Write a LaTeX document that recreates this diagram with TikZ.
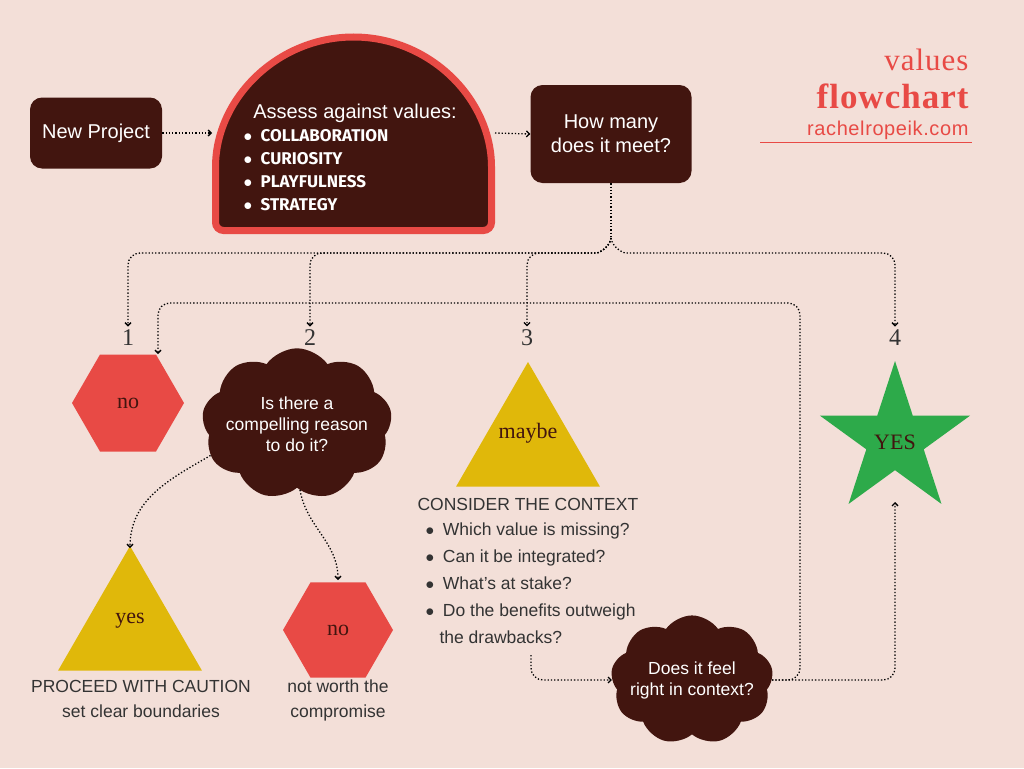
\documentclass[tikz,border=0pt]{standalone}
\usepackage{fontspec}
\setmainfont{Liberation Sans}
\newfontfamily\serf{Liberation Serif}
\newfontfamily\cond{Fira Sans}
\usetikzlibrary{shapes.geometric,shapes.symbols,arrows.meta}
\definecolor{bg}{HTML}{F3DFD8}
\definecolor{dk}{HTML}{42150F}
\definecolor{rd}{HTML}{E84A45}
\definecolor{yl}{HTML}{E0B80A}
\definecolor{gr}{HTML}{2DAA4A}
\definecolor{tx}{HTML}{333333}
\begin{document}
\begin{tikzpicture}[x=1pt,y=-1pt,
  box/.style={fill=dk,rounded corners=12pt,text=white,font=\fontsize{20}{24}\selectfont,align=center,inner sep=0},
  conn/.style={dotted,line width=1.3pt,-{Straight Barb[length=3pt,width=6pt]},rounded corners=12pt},
  lnk/.style={dotted,line width=1.3pt,rounded corners=12pt},
  hex/.style={regular polygon,regular polygon sides=6,fill=rd,minimum size=112pt,inner sep=0,font=\serf\fontsize{22}{24}\selectfont,text=dk},
  tri/.style={regular polygon,regular polygon sides=3,fill=yl,minimum size=166pt,inner sep=0},
  cld/.style={cloud,cloud puffs=9,cloud puff arc=110,aspect=1.4,fill=dk,text=white,align=center,inner sep=-8pt,font=\fontsize{17.5}{21}\selectfont},
  num/.style={font=\serf\fontsize{24}{26}\selectfont,text=tx},
  body/.style={font=\fontsize{17.5}{27}\selectfont,text=tx,align=left}]
\fill[bg] (0,0) rectangle (1024,768);
\useasboundingbox (0,0) rectangle (1024,768);
% title
\node[anchor=east,text=rd,font=\serf\fontsize{31}{32}\selectfont] at (972,60) {v\kern1pt a\kern1pt l\kern1pt u\kern1pt e\kern1pt s};
\node[anchor=east,text=rd,font=\serf\bfseries\fontsize{35}{36}\selectfont] at (972,96) {f\kern1pt l\kern1pt o\kern1pt w\kern1pt c\kern1pt h\kern1pt a\kern1pt r\kern1pt t};
\node[anchor=east,text=rd,font=\fontsize{20}{22}\selectfont] (url) at (972,130) {r\kern.6pt a\kern.6pt c\kern.6pt h\kern.6pt e\kern.6pt l\kern.6pt r\kern.6pt o\kern.6pt p\kern.6pt e\kern.6pt i\kern.6pt k\kern.6pt .\kern.6pt c\kern.6pt o\kern.6pt m};
\draw[rd,line width=1pt] (760,142) -- (972,142);
% boxes
\node[box,minimum width=132pt,minimum height=71pt] (np) at (96,133) {New Project};
\draw[rd,line width=7pt,fill=dk,rounded corners=8pt] (215.5,230.5) -- (215.5,175) arc(180:360:138) -- (491.5,230.5) -- cycle;
\coordinate (archL) at (212,133);
\coordinate (archR) at (495,133);
\node[text=white,font=\fontsize{20}{23}\selectfont] (as) at (355,113) {Assess against values:};
\node[text=white,anchor=north west,font=\cond\bfseries\fontsize{17}{23}\selectfont,align=left] (vals) at (240,126) {$\bullet$\enspace COLLABORATION\\$\bullet$\enspace CURIOSITY\\$\bullet$\enspace PLAYFULNESS\\$\bullet$\enspace STRATEGY};
\node[box,minimum width=161pt,minimum height=98pt] (hm) at (611,134) {How many\\does it meet?};
\draw[conn] (np.east) -- (archL);
\draw[conn] (archR) -- (hm.west);
% numbers
\node[num] (n1) at (128,338) {1};
\node[num] (n2) at (310,338) {2};
\node[num] (n3) at (527,338) {3};
\node[num] (n4) at (895,338) {4};
\coordinate (fork) at (611,238);
\draw[lnk] (hm.south) -- (fork);
\draw[conn] (fork) to[out=-100,in=0] (585,253) -- (128,253) -- (n1.north);
\draw[conn] (fork) to[out=-100,in=0] (585,253) -- (310,253) -- (n2.north);
\draw[conn] (fork) to[out=-100,in=0] (585,253) -- (527,253) -- (n3.north);
\draw[conn] (fork) to[out=-80,in=180] (637,253) -- (895,253) -- (n4.north);
% shapes
\node[hex] (no1) at (128,403) {no};
\node[cld] (c1) at (297,424) {Is there a\\compelling reason\\to do it?};
\node[tri] (mb) at (528,445) {};
\node[font=\serf\fontsize{22}{24}\selectfont,text=dk] at (528,433) {maybe};
\node[star,star points=5,star point ratio=2.618,fill=gr,minimum size=158pt,inner sep=0] (yes4) at (895,440) {};
\node[font=\serf\fontsize{22}{24}\selectfont,text=dk] at (895,442) {YES};
\node[body,anchor=north west] (ctx) at (414,495) {CONSIDER THE CONTEXT\\[-2pt]
\hspace*{8pt}$\bullet$\enspace Which value is missing?\\
\hspace*{8pt}$\bullet$\enspace Can it be integrated?\\
\hspace*{8pt}$\bullet$\enspace What’s at stake?\\
\hspace*{8pt}$\bullet$\enspace Do the benefits outweigh\\
\hspace*{22pt}the drawbacks?};
\node[tri] (ty) at (130,629) {};
\node[font=\serf\fontsize{22}{24}\selectfont,text=dk] at (130,621) {yes};
\node[hex,minimum size=110pt] (no2) at (338,630) {no};
\node[body,align=center,anchor=north] at (141,677) {PROCEED WITH CAUTION\\[-2pt]set clear boundaries};
\node[body,align=center,anchor=north] at (338,676) {not worth the\\[-2pt]compromise};
\node[cld] (c2) at (692,680) {Does it feel\\right in context?};
\coordinate (ctxend) at (531,655);
\coordinate (loopup) at (800,303);
\coordinate (loopend) at (158,354);
\coordinate (starin) at (895,502);
% lower connectors
\draw[conn] (c1.200) to[out=-150,in=90] (130,548);
\draw[conn] (300,490) to[out=-80,in=90] (338,580);
\draw[conn] (ctxend) |- (c2.west);
\draw[conn] (c2.east) -| (loopup) -- (158,303) -- (loopend);
\draw[conn] (c2.east) -| (starin);
\end{tikzpicture}
\end{document}
